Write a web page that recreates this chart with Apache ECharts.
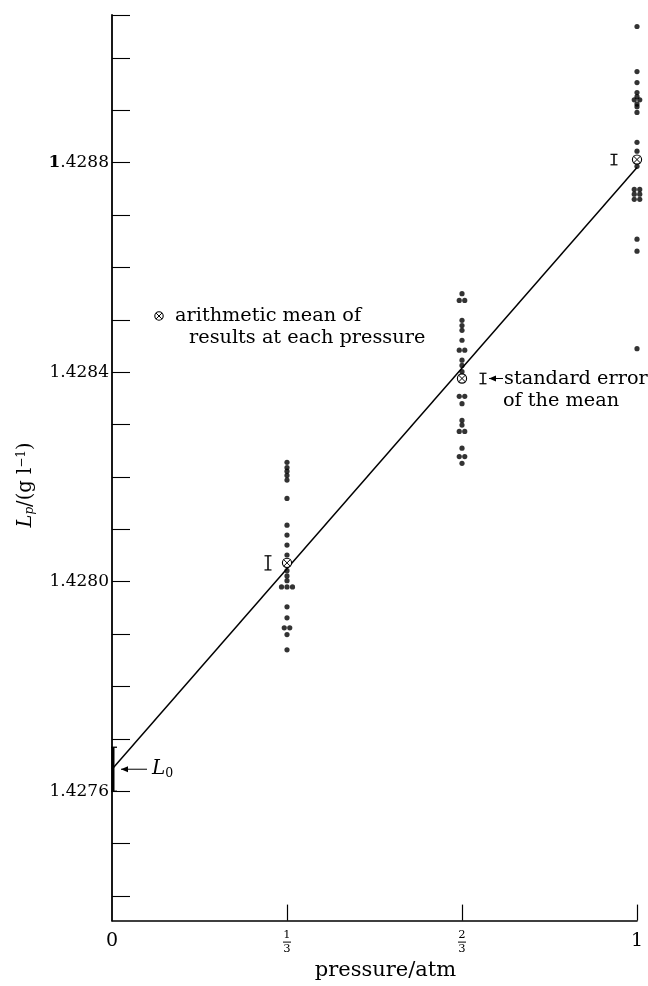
<!DOCTYPE html>
<html><head><meta charset="utf-8">
<script src="https://cdn.jsdelivr.net/npm/echarts@6/dist/echarts.min.js"></script>
<style>html,body{margin:0;padding:0;background:#fff}#c{width:648px;height:986px}</style>
</head><body><div id="c"></div>
<script>
// ---------------- data ----------------
const pressures = [1/3, 2/3, 1];
const pts13 = [1.428228, 1.428218, 1.428211, 1.428203, 1.428194, 1.428159, 1.428108, 1.428089,
  1.428070, 1.428051, 1.428040, 1.428032, 1.428021, 1.428011, 1.428002, 1.427990, 1.427990,
  1.427990, 1.427952, 1.427931, 1.427912, 1.427912, 1.427899, 1.427870];
const pts23 = [1.428550, 1.428537, 1.428537, 1.428499, 1.428489, 1.428480, 1.428461, 1.428442,
  1.428442, 1.428423, 1.428413, 1.428401, 1.428354, 1.428354, 1.428340, 1.428308, 1.428299,
  1.428287, 1.428287, 1.428255, 1.428239, 1.428239, 1.428226];
const pts1 = [1.429060, 1.428974, 1.428953, 1.428934, 1.428926, 1.428920, 1.428920, 1.428912,
  1.428907, 1.428896, 1.428839, 1.428822, 1.428793, 1.428749, 1.428749, 1.428740, 1.428740,
  1.428730, 1.428730, 1.428654, 1.428631, 1.428445];
const means = [1.428036, 1.428388, 1.428806];
const stdErr = [0.0000135, 0.0000100, 0.0000100];
const fitX = [0, 1];
const fitY = [1.427642, 1.428791];
const L0 = 1.427642;
const L0err = 0.000042;
const yMin = 1.427353, yMax = 1.429082;
const yTicks = [1.4274, 1.4275, 1.4276, 1.4277, 1.4278, 1.4279, 1.4280, 1.4281, 1.4282, 1.4283,
  1.4284, 1.4285, 1.4286, 1.4287, 1.4288, 1.4289, 1.4290, yMax];
const yLabels = [1.4276, 1.4280, 1.4284, 1.4288];
const xTicks = [1/3, 2/3, 1];
const xLabelVals = [0, 1/3, 2/3, 1];
const xLabelText = ['0', '1/3', '2/3', '1'];

// ---------------- styling helpers ----------------
const SERIF = '"DejaVu Serif", "Liberation Serif", serif';
const NOTE = 19.3;
const seOffsetPx = [-19, 21, -23];

function otimes(cx, cy, r) {
  const d = r * 0.7;
  return [
    {type: 'circle', shape: {cx, cy, r}, style: {fill: '#fff', stroke: '#000', lineWidth: 1.1}},
    {type: 'line', shape: {x1: cx - d, y1: cy - d, x2: cx + d, y2: cy + d}, style: {stroke: '#000', lineWidth: 1}},
    {type: 'line', shape: {x1: cx - d, y1: cy + d, x2: cx + d, y2: cy - d}, style: {stroke: '#000', lineWidth: 1}}
  ];
}

function columnData(vals, x) {
  const counts = {}, seen = {};
  vals.forEach(v => { counts[v] = (counts[v] || 0) + 1; });
  return vals.map(v => {
    const n = counts[v]; const k = seen[v] || 0; seen[v] = k + 1;
    return {value: [x, v], symbolOffset: [(k - (n - 1) / 2) * 5.5, 0]};
  });
}

const scatterData = [].concat(columnData(pts13, pressures[0]), columnData(pts23, pressures[1]), columnData(pts1, pressures[2]));

const chart = echarts.init(document.getElementById('c'), null, {renderer: 'canvas'});

chart.setOption({
  animation: false,
  backgroundColor: '#fff',
  grid: {left: 112, right: 11, top: 15, bottom: 62, containLabel: false},
  xAxis: {
    type: 'value', min: 0, max: 1,
    name: 'pressure/atm', nameLocation: 'middle', nameGap: 36,
    nameTextStyle: {fontFamily: SERIF, fontSize: 21, color: '#000', padding: [0, 0, 0, 22]},
    axisLine: {show: true, lineStyle: {color: '#000', width: 1.6}},
    axisTick: {show: true, inside: true, length: 16, customValues: xTicks, lineStyle: {color: '#000', width: 1.2}},
    axisLabel: {
      customValues: xLabelVals, margin: 9, color: '#000', fontFamily: SERIF,
      formatter: (v) => {
        const i = xLabelVals.findIndex(u => Math.abs(u - v) < 1e-9);
        const t = xLabelText[i] || '';
        if (t.indexOf('/') > 0) {
          const [n, d] = t.split('/');
          return '{n|' + n + '}\n{bar| }\n{d|' + d + '}';
        }
        return '{w|' + t + '}';
      },
      rich: {
        w: {fontFamily: SERIF, fontSize: 19, lineHeight: 22, color: '#000'},
        n: {fontFamily: SERIF, fontSize: 11.5, lineHeight: 11, color: '#000', align: 'center'},
        d: {fontFamily: SERIF, fontSize: 11.5, lineHeight: 11, color: '#000', align: 'center'},
        bar: {width: 8, height: 1, lineHeight: 3, fontSize: 1, backgroundColor: '#000', align: 'center'}
      }
    },
    splitLine: {show: false}
  },
  yAxis: {
    type: 'value', min: yMin, max: yMax,
    axisLine: {show: true, lineStyle: {color: '#000', width: 1.8}},
    axisTick: {show: true, inside: true, length: 18, customValues: yTicks, lineStyle: {color: '#000', width: 1.1}},
    axisLabel: {
      customValues: yLabels, margin: 3, color: '#000', fontFamily: SERIF, fontSize: 17,
      formatter: (v) => {
        const s = v.toFixed(4);
        return s === '1.4288' ? '{b|1}{r|.4288}' : '{r|' + s + '}';
      },
      rich: {
        b: {fontFamily: SERIF, fontSize: 17, fontWeight: 'bold', color: '#000'},
        r: {fontFamily: SERIF, fontSize: 17, color: '#000'}
      }
    },
    splitLine: {show: false}
  },
  series: [
    {
      type: 'line', data: fitX.map((x, i) => [x, fitY[i]]), symbol: 'none',
      lineStyle: {color: '#000', width: 1.5}, z: 2
    },
    {
      type: 'scatter', data: scatterData, symbol: 'circle', symbolSize: 5.2,
      itemStyle: {color: '#000'}, z: 3
    },
    {
      type: 'custom', clip: false, z: 4,
      data: pressures.map((x, i) => [x, means[i], stdErr[i]]),
      renderItem: (params, api) => {
        const i = params.dataIndex;
        const c = api.coord([api.value(0), api.value(1)]);
        const top = api.coord([api.value(0), api.value(1) + api.value(2)]);
        const bot = api.coord([api.value(0), api.value(1) - api.value(2)]);
        const x = c[0] + seOffsetPx[i];
        const w = 3.5;
        return {type: 'group', children: [
          {type: 'line', shape: {x1: x, y1: top[1], x2: x, y2: bot[1]}, style: {stroke: '#000', lineWidth: 1.5}},
          {type: 'line', shape: {x1: x - w, y1: top[1], x2: x + w, y2: top[1]}, style: {stroke: '#000', lineWidth: 1.2}},
          {type: 'line', shape: {x1: x - w, y1: bot[1], x2: x + w, y2: bot[1]}, style: {stroke: '#000', lineWidth: 1.2}}
        ].concat(otimes(c[0], c[1], 4.6))};
      }
    },
    {
      type: 'custom', clip: false, z: 4,
      data: [[0, L0, L0err]],
      renderItem: (params, api) => {
        const top = api.coord([api.value(0), api.value(1) + api.value(2)]);
        const bot = api.coord([api.value(0), api.value(1) - api.value(2)]);
        const x = top[0];
        return {type: 'group', children: [
          {type: 'line', shape: {x1: x + 1, y1: top[1], x2: x + 1, y2: bot[1]}, style: {stroke: '#000', lineWidth: 3}},
          {type: 'line', shape: {x1: x - 1, y1: top[1], x2: x + 5, y2: top[1]}, style: {stroke: '#000', lineWidth: 1.3}},
          {type: 'line', shape: {x1: x - 1, y1: bot[1], x2: x + 5, y2: bot[1]}, style: {stroke: '#000', lineWidth: 1.3}}
        ]};
      }
    }
  ]
});

// ---------------- annotations ----------------
const pL0 = chart.convertToPixel({gridIndex: 0}, [0, L0]);
const pSE = chart.convertToPixel({gridIndex: 0}, [pressures[1], means[1]]);
const seX = pSE[0] + seOffsetPx[1];
const txt = (x, y, text, size, extra) => Object.assign({
  type: 'text', x, y,
  style: Object.assign({text, fontFamily: SERIF, fontSize: size, fill: '#000', verticalAlign: 'middle'}, extra || {})
});
const arrow = (x1, x2, y) => ({type: 'group', children: [
  {type: 'line', shape: {x1, y1: y, x2, y2: y}, style: {stroke: '#000', lineWidth: 1}},
  {type: 'polygon', shape: {points: [[x1, y], [x1 + 7, y - 3], [x1 + 7, y + 3]]}, style: {fill: '#000'}}
]});

chart.setOption({
  graphic: [
    // y axis title
    {type: 'text', x: 26, y: 485, rotation: Math.PI / 2,
      style: {text: '{i|L}{s|p}{r|/(g l}{sp|−1}{r|)}', align: 'center', verticalAlign: 'middle',
        rich: {
          i: {fontFamily: SERIF, fontStyle: 'italic', fontSize: 19.5, fill: '#000'},
          s: {fontFamily: SERIF, fontStyle: 'italic', fontSize: 12, fill: '#000', padding: [8, 0, 0, 0]},
          r: {fontFamily: SERIF, fontSize: 19.5, fill: '#000'},
          sp: {fontFamily: SERIF, fontSize: 12, fill: '#000', padding: [0, 0, 8, 0]}
        }}},
    // legend-like note
    {type: 'group', children: otimes(159, 316, 4.2)},
    txt(175, 316, 'arithmetic mean of', NOTE),
    txt(189, 338, 'results at each pressure', NOTE),
    // standard error note
    arrow(seX + 6, seX + 20, pSE[1]),
    txt(seX + 21, pSE[1], 'standard error', NOTE),
    txt(seX + 20, pSE[1] + 22, 'of the mean', NOTE),
    // L0 note
    arrow(pL0[0] + 9, pL0[0] + 35, pL0[1]),
    {type: 'text', x: pL0[0] + 40, y: pL0[1],
      style: {text: '{i|L}{s|0}', verticalAlign: 'middle',
        rich: {
          i: {fontFamily: SERIF, fontStyle: 'italic', fontSize: 20, fill: '#000'},
          s: {fontFamily: SERIF, fontSize: 12.5, fill: '#000', padding: [10, 0, 0, 0]}
        }}}
  ]
});
</script>
</body></html>
